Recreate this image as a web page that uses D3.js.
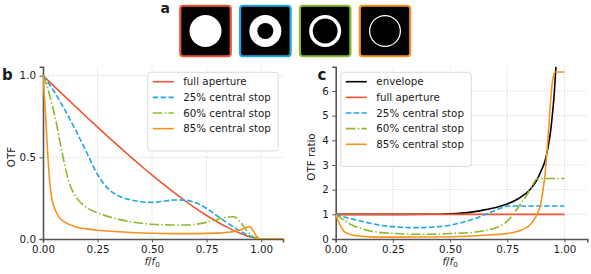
<!DOCTYPE html>
<html>
<head>
<meta charset="utf-8">
<script src="https://cdn.jsdelivr.net/npm/d3@7"></script>
<style>
body{margin:0;background:#fff;}
text{font-family:"DejaVu Sans",sans-serif;fill:#1a1a1a;}
</style>
</head>
<body>
<script>
// aperture panel (a): area fraction blocked by the central stop
var stopFractions = [0, 0.25, 0.6, 0.85];

// panel b: OTF vs f/f0
var otfFull = [[0,1],[0.05,0.936],[0.1,0.873],[0.15,0.81],[0.2,0.747],[0.25,0.685],[0.3,0.624],[0.35,0.564],[0.4,0.505],[0.45,0.447],[0.5,0.391],[0.55,0.337],[0.6,0.285],[0.65,0.235],[0.7,0.188],[0.75,0.144],[0.8,0.104],[0.85,0.068],[0.9,0.037],[0.95,0.013],[1.0,0],[1.1,0]];
var otf25 = [[0,1],[0.05,0.905],[0.1,0.79],[0.15,0.665],[0.2,0.53],[0.25,0.395],[0.3,0.305],[0.35,0.262],[0.4,0.24],[0.45,0.228],[0.5,0.224],[0.55,0.231],[0.6,0.239],[0.65,0.238],[0.7,0.222],[0.75,0.187],[0.8,0.14],[0.85,0.094],[0.9,0.052],[0.95,0.017],[1.0,0],[1.1,0]];
var otf60 = [[0,1],[0.02,0.93],[0.04,0.83],[0.06,0.72],[0.08,0.58],[0.1,0.45],[0.12,0.345],[0.15,0.26],[0.2,0.192],[0.25,0.16],[0.3,0.137],[0.35,0.12],[0.4,0.106],[0.45,0.096],[0.5,0.09],[0.55,0.087],[0.6,0.086],[0.65,0.086],[0.7,0.09],[0.75,0.102],[0.8,0.12],[0.85,0.135],[0.875,0.136],[0.9,0.11],[0.93,0.06],[0.96,0.018],[1.0,0],[1.1,0]];
var otf85 = [[0,1],[0.01,0.8],[0.02,0.56],[0.03,0.36],[0.04,0.25],[0.05,0.2],[0.07,0.14],[0.1,0.103],[0.15,0.074],[0.2,0.062],[0.25,0.054],[0.35,0.044],[0.5,0.035],[0.6,0.033],[0.7,0.033],[0.8,0.036],[0.85,0.041],[0.9,0.053],[0.93,0.07],[0.947,0.077],[0.96,0.058],[0.98,0.015],[0.995,0],[1.1,0]];

// panel c: OTF ratio vs f/f0
var ratioEnvelope = [[0,1],[0.3,1],[0.45,1.005],[0.5,1.02],[0.55,1.05],[0.6,1.1],[0.65,1.18],[0.7,1.28],[0.75,1.42],[0.8,1.64],[0.85,2.01],[0.88,2.4],[0.9,2.8],[0.915,3.16],[0.93,3.8],[0.94,4.4],[0.95,5.3],[0.956,5.95],[0.963,7.0]];
var ratioFull = [[0,1],[1,1]];
var ratio25 = [[0,1],[0.05,0.86],[0.1,0.75],[0.15,0.64],[0.2,0.55],[0.25,0.5],[0.3,0.47],[0.35,0.46],[0.4,0.47],[0.45,0.5],[0.5,0.56],[0.55,0.66],[0.6,0.8],[0.65,0.98],[0.7,1.17],[0.73,1.28],[0.75,1.34],[1.0,1.34]];
var ratio60 = [[0,1],[0.02,0.86],[0.04,0.74],[0.06,0.62],[0.08,0.53],[0.1,0.46],[0.13,0.37],[0.16,0.31],[0.2,0.26],[0.25,0.23],[0.3,0.205],[0.35,0.19],[0.4,0.19],[0.45,0.2],[0.5,0.22],[0.55,0.24],[0.6,0.27],[0.65,0.34],[0.7,0.46],[0.73,0.58],[0.76,0.82],[0.78,1.05],[0.8,1.32],[0.83,1.7],[0.86,2.17],[0.875,2.4],[0.885,2.45],[1.0,2.45]];
var ratio85 = [[0,1],[0.01,0.75],[0.02,0.55],[0.035,0.32],[0.05,0.23],[0.065,0.18],[0.1,0.12],[0.15,0.085],[0.2,0.078],[0.3,0.078],[0.4,0.082],[0.5,0.092],[0.6,0.12],[0.65,0.15],[0.7,0.18],[0.75,0.22],[0.8,0.32],[0.83,0.44],[0.85,0.58],[0.865,0.75],[0.88,1.0],[0.894,1.34],[0.905,1.9],[0.915,2.6],[0.925,3.7],[0.935,5.0],[0.944,6.1],[0.952,6.6],[0.957,6.77],[1.0,6.77]];

var xTicks = [0, 0.25, 0.5, 0.75, 1.0];
var otfTicks = [0, 0.5, 1.0];
var ratioTicks = [0, 1, 2, 3, 4, 5, 6];

var names = ["envelope", "full aperture", "25% central stop", "60% central stop", "85% central stop"];

// styles
var colors = {"envelope":"#000000","full aperture":"#ee5530","25% central stop":"#1ea5e3","60% central stop":"#8cba2c","85% central stop":"#f7931e"};
var dashes = {"envelope":null,"full aperture":null,"25% central stop":"5.5,2.4","60% central stop":"9.6,2.4,1.5,2.4","85% central stop":null};
var fs = 10.3;

var width = 591, height = 274;
var svg = d3.select("body").append("svg").attr("width", width).attr("height", height);

// ---- panel a ----
svg.append("text").attr("x", 160.5).attr("y", 13).attr("font-size", 14).attr("font-weight", "bold").text("a");
var sq = d3.scaleLinear().domain([0, 3]).range([205.5, 385]);
var side = 50.5, outerR = 16;
var apGroup = svg.selectAll(".ap").data(stopFractions).enter().append("g")
  .attr("transform", function(d, i){ return "translate(" + sq(i) + ",31)"; });
apGroup.append("rect")
  .attr("x", -side/2).attr("y", -side/2).attr("width", side).attr("height", side)
  .attr("rx", 3).attr("fill", "#000")
  .attr("stroke", function(d, i){ return colors[names[i+1]]; }).attr("stroke-width", 2.2);
apGroup.append("circle").attr("r", outerR).attr("fill", "#fff");
apGroup.filter(function(d){ return d > 0; }).append("circle")
  .attr("r", function(d){ return outerR * Math.sqrt(d); }).attr("fill", "#000");

function drawPanel(p){
  var x = d3.scaleLinear().domain([0, 1.1]).range([p.left, p.right]);
  var y = d3.scaleLinear().domain(p.yDomain).range([239, 66.7]);
  var g = svg.append("g");

  // grid
  g.selectAll(".gx").data(xTicks.slice(1)).enter().append("line")
    .attr("x1", function(d){ return x(d); }).attr("x2", function(d){ return x(d); })
    .attr("y1", y.range()[0]).attr("y2", y.range()[1])
    .attr("stroke", "#c4c4c4").attr("stroke-width", 0.8).attr("stroke-dasharray", "1,1.6");
  g.selectAll(".gy").data(p.yTicks.slice(1)).enter().append("line")
    .attr("y1", function(d){ return y(d); }).attr("y2", function(d){ return y(d); })
    .attr("x1", x.range()[0]).attr("x2", x.range()[1])
    .attr("stroke", "#c4c4c4").attr("stroke-width", 0.8).attr("stroke-dasharray", "1,1.6");

  // axes
  var xAxis = d3.axisBottom(x).tickValues(xTicks).tickFormat(d3.format(".2f")).tickSizeOuter(0).tickSize(3.5).tickPadding(3.5);
  var yAxis = d3.axisLeft(y).tickValues(p.yTicks).tickFormat(p.yFormat).tickSizeOuter(0).tickSize(3.5).tickPadding(3.5);
  var ax = g.append("g").attr("transform", "translate(0,239)").call(xAxis);
  var ay = g.append("g").attr("transform", "translate(" + p.left + ",0)").call(yAxis);
  [ax, ay].forEach(function(a){
    a.select(".domain").attr("stroke", "#555").attr("stroke-width", 1.6);
    a.selectAll(".tick line").attr("stroke", "#555").attr("stroke-width", 1);
    a.selectAll(".tick text").attr("font-size", fs).attr("fill", "#1a1a1a").attr("font-family", "DejaVu Sans");
  });

  // clip
  var clipId = "clip" + p.label;
  svg.append("clipPath").attr("id", clipId).append("rect")
    .attr("x", p.left).attr("y", 66.7).attr("width", p.right - p.left).attr("height", 239 - 66.7);

  var line = d3.line().x(function(d){ return x(d[0]); }).y(function(d){ return y(d[1]); }).curve(d3.curveMonotoneX);
  g.append("g").attr("clip-path", "url(#" + clipId + ")")
    .selectAll("path").data(p.series).enter().append("path")
    .attr("d", function(s){ return line(s.values); })
    .attr("fill", "none")
    .attr("stroke", function(s){ return colors[s.name]; })
    .attr("stroke-width", 1.6)
    .attr("stroke-dasharray", function(s){ return dashes[s.name]; });

  // labels
  svg.append("text").attr("x", p.labelX).attr("y", 79.5).attr("font-size", 15).attr("font-weight", "bold").text(p.label);
  svg.append("text").attr("transform", "translate(" + p.yLabelX + ",157) rotate(-90)")
    .attr("text-anchor", "middle").attr("font-size", fs).text(p.yLabel);
  var xl = svg.append("text").attr("x", x(0.5)).attr("y", 265).attr("text-anchor", "middle").attr("font-size", fs);
  xl.append("tspan").attr("font-style", "italic").text("f");
  xl.append("tspan").text("/");
  xl.append("tspan").attr("font-style", "italic").text("f");
  xl.append("tspan").attr("font-size", 7.2).attr("dy", 2).text("0");

  // legend
  var lg = svg.append("g");
  lg.append("rect").attr("x", p.legX).attr("y", 72.3)
    .attr("width", p.legW).attr("height", 16 + p.series.length * 15.65)
    .attr("rx", 3).attr("fill", "#fff").attr("fill-opacity", 0.85)
    .attr("stroke", "#d0d0d0").attr("stroke-width", 0.8);
  var rows = lg.selectAll(".row").data(p.series).enter().append("g")
    .attr("transform", function(s, i){ return "translate(" + p.legX + "," + (81.7 + i * 15.65) + ")"; });
  rows.append("line").attr("x1", 5).attr("x2", 26).attr("y1", 0).attr("y2", 0)
    .attr("stroke", function(s){ return colors[s.name]; }).attr("stroke-width", 1.6)
    .attr("stroke-dasharray", function(s){ return dashes[s.name]; });
  rows.append("text").attr("x", 35.5).attr("y", 3.7).attr("font-size", fs).text(function(s){ return s.name; });
}

drawPanel({
  label: "b", labelX: 2, left: 43, right: 283,
  yDomain: [0, 1.055], yTicks: otfTicks, yFormat: d3.format(".1f"),
  yLabel: "OTF", yLabelX: 14.5,
  legX: 147.7, legW: 130.5,
  series: [
    {name: names[1], values: otfFull},
    {name: names[2], values: otf25},
    {name: names[3], values: otf60},
    {name: names[4], values: otf85}
  ]
});

drawPanel({
  label: "c", labelX: 317.5, left: 335.7, right: 587.3,
  yDomain: [0, 6.985], yTicks: ratioTicks, yFormat: d3.format("d"),
  yLabel: "OTF ratio", yLabelX: 314.5,
  legX: 340.8, legW: 130.5,
  series: [
    {name: names[0], values: ratioEnvelope},
    {name: names[1], values: ratioFull},
    {name: names[2], values: ratio25},
    {name: names[3], values: ratio60},
    {name: names[4], values: ratio85}
  ]
});
</script>
</body>
</html>
